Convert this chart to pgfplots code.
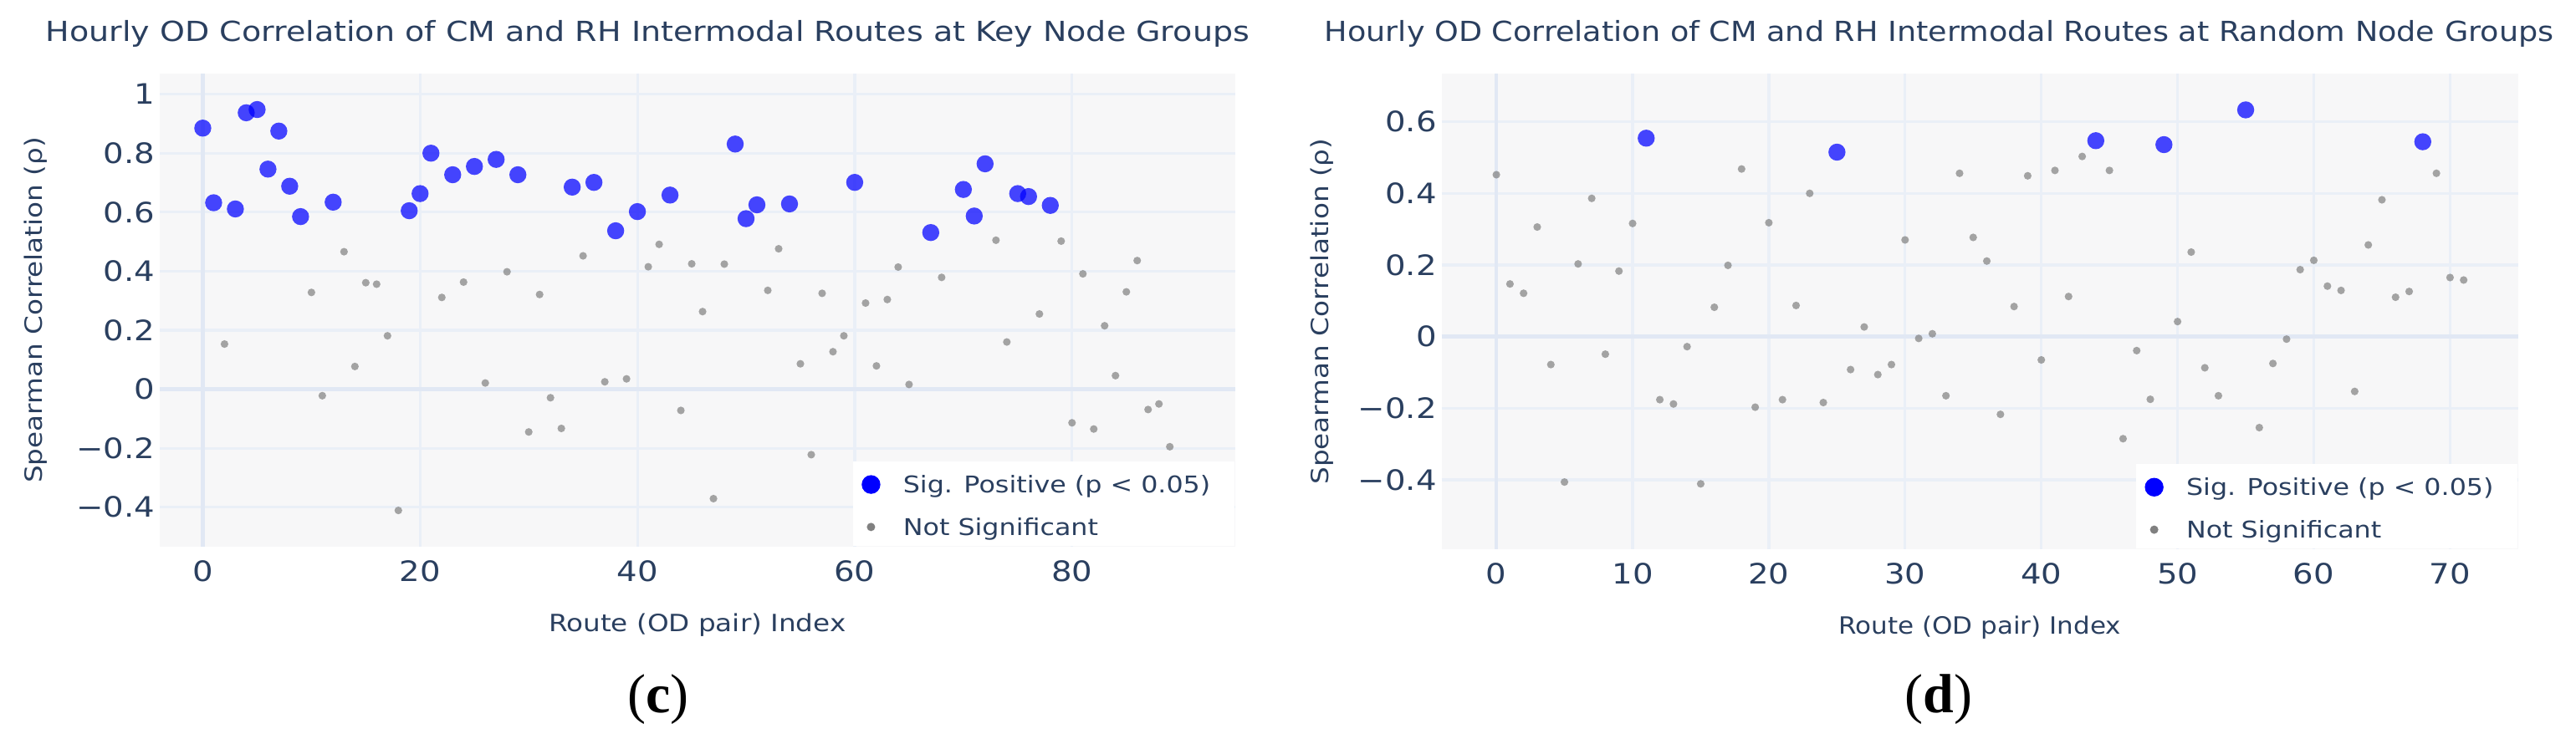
\documentclass[border=0pt]{standalone}
\usepackage{fontspec}
\setmainfont{DejaVu Sans}[FakeStretch=1.15]
\newfontfamily\capfont{Liberation Serif}
\usepackage{pgfplots}
\pgfplotsset{compat=1.18}
\usepackage{pgfplotstable}

\definecolor{textc}{HTML}{2A3F5F}
\definecolor{plotbg}{HTML}{F7F7F8}
\definecolor{gridc}{HTML}{EAEFF7}
\definecolor{zeroc}{HTML}{E1E8F4}
\definecolor{sigblue}{RGB}{0,0,255}
\definecolor{nsgray}{RGB}{128,128,128}

\pgfplotstableread{
idx rho
0 0.885
1 0.632
3 0.611
4 0.937
5 0.948
6 0.746
7 0.875
8 0.688
9 0.585
12 0.634
19 0.605
20 0.663
21 0.800
23 0.727
25 0.755
27 0.779
29 0.727
34 0.685
36 0.701
38 0.537
40 0.602
43 0.658
49 0.831
50 0.578
51 0.625
54 0.628
60 0.701
67 0.531
70 0.677
71 0.587
72 0.764
75 0.663
76 0.653
78 0.623
}\keysig

\pgfplotstableread{
idx rho
2 0.153
10 0.328
11 -0.022
13 0.466
14 0.077
15 0.361
16 0.356
17 0.181
18 -0.411
22 0.311
24 0.363
26 0.021
28 0.398
30 -0.145
31 0.321
32 -0.029
33 -0.133
35 0.452
37 0.025
39 0.035
41 0.415
42 0.491
44 -0.072
45 0.425
46 0.263
47 -0.371
48 0.424
52 0.335
53 0.476
55 0.086
56 -0.222
57 0.325
58 0.127
59 0.181
61 0.292
62 0.079
63 0.304
64 0.414
65 0.016
68 0.379
73 0.505
74 0.160
77 0.255
79 0.502
80 -0.114
81 0.391
82 -0.135
83 0.215
84 0.046
85 0.330
86 0.436
87 -0.069
88 -0.050
89 -0.195
}\keyns

\pgfplotstableread{
idx rho
11 0.554
25 0.515
44 0.547
49 0.536
55 0.633
68 0.544
}\randsig

\pgfplotstableread{
idx rho
0 0.452
1 0.147
2 0.121
3 0.306
4 -0.078
5 -0.406
6 0.203
7 0.386
8 -0.049
9 0.183
10 0.316
12 -0.176
13 -0.188
14 -0.028
15 -0.411
16 0.082
17 0.199
18 0.468
19 -0.197
20 0.318
21 -0.176
22 0.087
23 0.400
24 -0.184
26 -0.092
27 0.027
28 -0.106
29 -0.078
30 0.270
31 -0.005
32 0.008
33 -0.165
34 0.456
35 0.277
36 0.211
37 -0.217
38 0.084
39 0.449
40 -0.065
41 0.464
42 0.112
43 0.503
45 0.464
46 -0.285
47 -0.039
48 -0.175
50 0.042
51 0.236
52 -0.087
53 -0.165
56 -0.254
57 -0.075
58 -0.007
59 0.187
60 0.213
61 0.141
62 0.129
63 -0.153
64 0.256
65 0.382
66 0.110
67 0.126
69 0.456
70 0.165
71 0.158
}\randns

\pgfplotsset{
  corr/.style={
    scale only axis,
    axis background/.style={fill=plotbg},
    axis line style={draw=none},
    major tick length=0pt,
    tick style={draw=none},
    grid=major,
    major grid style={draw=gridc, line width=0.8pt},
    extra x ticks={0}, extra y ticks={0},
    extra x tick labels={}, extra y tick labels={},
    extra tick style={grid=major, major grid style={draw=zeroc, line width=1.1pt}},
    ticklabel style={font=\fontsize{8.4}{10}\selectfont, text=textc, inner sep=0pt},
    yticklabel style={anchor=east, xshift=-1.3pt},
    xticklabel style={anchor=north, yshift=-4pt},
    every axis x label/.style={at={(axis description cs:0.5,0)}, anchor=base, yshift=-25.3pt,
      font=\fontsize{7.1}{8.5}\selectfont, text=textc},
    every axis y label/.style={rotate=90, anchor=center,
      font=\fontsize{7.1}{8.5}\selectfont, text=textc},
    ylabel={Spearman Correlation (ρ)},
    legend cell align=left,
    legend style={at={(1,0)}, anchor=south east, draw=none, fill=white,
      inner sep=0pt, row sep=0pt, column sep=0pt,
      font=\fontsize{6.9}{8}\selectfont, text=textc,
      nodes={inner sep=0pt, text height=9.5pt, text depth=3.2pt}},
    legend image code/.code={%
      \path[draw=none, fill=none] (0pt,-4pt) rectangle (15pt,4pt);
      \draw[##1] plot coordinates {(5.4pt,-0.65pt)};
    },
  },
  sigmk/.style={only marks, mark=*, mark size=2.55pt,
    mark options={fill=sigblue, fill opacity=0.72, draw opacity=0}},
  nsmk/.style={only marks, mark=*, mark size=1.15pt,
    mark options={fill=nsgray, fill opacity=0.7, draw opacity=0}},
  sigleg/.style={only marks, mark=*, mark size=2.8pt,
    mark options={fill=sigblue, draw opacity=0}},
  nsleg/.style={only marks, mark=*, mark size=1.25pt,
    mark options={fill=nsgray, draw opacity=0}},
}

\begin{document}
\begin{tikzpicture}
\useasboundingbox (0,0) rectangle (770pt,221pt);

\begin{axis}[corr,
  at={(47.75pt,57.5pt)}, anchor=south west,
  width=321.4pt, height=141.5pt,
  xmin=-3.96, xmax=95.0, ymin=-0.534, ymax=1.070,
  xtick={0,20,40,60,80}, xticklabels={0,20,40,60,80},
  ytick={-0.4,-0.2,0,0.2,0.4,0.6,0.8,1},
  yticklabels={−0.4,−0.2,0,0.2,0.4,0.6,0.8,1},
  xlabel={Route (OD pair) Index},
  ylabel style={at={(axis description cs:-0.1151,0.5)}},
]
\addplot[sigmk, forget plot] table[x=idx, y=rho] {\keysig};
\addplot[nsmk, forget plot] table[x=idx, y=rho] {\keyns};
\addlegendimage{sigleg}
\addlegendentry{\makebox[99pt][l]{Sig. Positive (p < 0.05)}}
\addlegendimage{nsleg}
\addlegendentry{\makebox[99pt][l]{Not Significant}}
\end{axis}

\begin{axis}[corr,
  at={(430.9pt,56.7pt)}, anchor=south west,
  width=321.8pt, height=142.25pt,
  xmin=-4.02, xmax=75.0, ymin=-0.594, ymax=0.734,
  xtick={0,10,20,30,40,50,60,70}, xticklabels={0,10,20,30,40,50,60,70},
  ytick={-0.4,-0.2,0,0.2,0.4,0.6},
  yticklabels={−0.4,−0.2,0,0.2,0.4,0.6},
  xlabel={\scalebox{0.95}[1]{Route (OD pair) Index}},
  ylabel style={at={(axis description cs:-0.1107,0.5)}},
]
\addplot[sigmk, forget plot] table[x=idx, y=rho] {\randsig};
\addplot[nsmk, forget plot] table[x=idx, y=rho] {\randns};
\addlegendimage{sigleg}
\addlegendentry{\makebox[99pt][l]{Sig. Positive (p < 0.05)}}
\addlegendimage{nsleg}
\addlegendentry{\makebox[99pt][l]{Not Significant}}
\end{axis}

\node[anchor=base west, inner sep=0pt, text=textc, font=\fontsize{8.26}{10}\selectfont]
  at (13.5pt,208.7pt) {Hourly OD Correlation of CM and RH Intermodal Routes at Key Node Groups};
\node[anchor=base west, inner sep=0pt, text=textc, font=\fontsize{8.26}{10}\selectfont]
  at (395.75pt,208.5pt) {\scalebox{0.962}[1]{Hourly OD Correlation of CM and RH Intermodal Routes at Random Node Groups}};

\node[anchor=base, inner sep=0pt, font=\capfont\fontsize{16.5}{18}\selectfont]
  at (196.75pt,7.8pt) {(\textbf{c})};
\node[anchor=base, inner sep=0pt, font=\capfont\fontsize{16.5}{18}\selectfont]
  at (579.5pt,7.8pt) {(\textbf{d})};
\end{tikzpicture}
\end{document}
